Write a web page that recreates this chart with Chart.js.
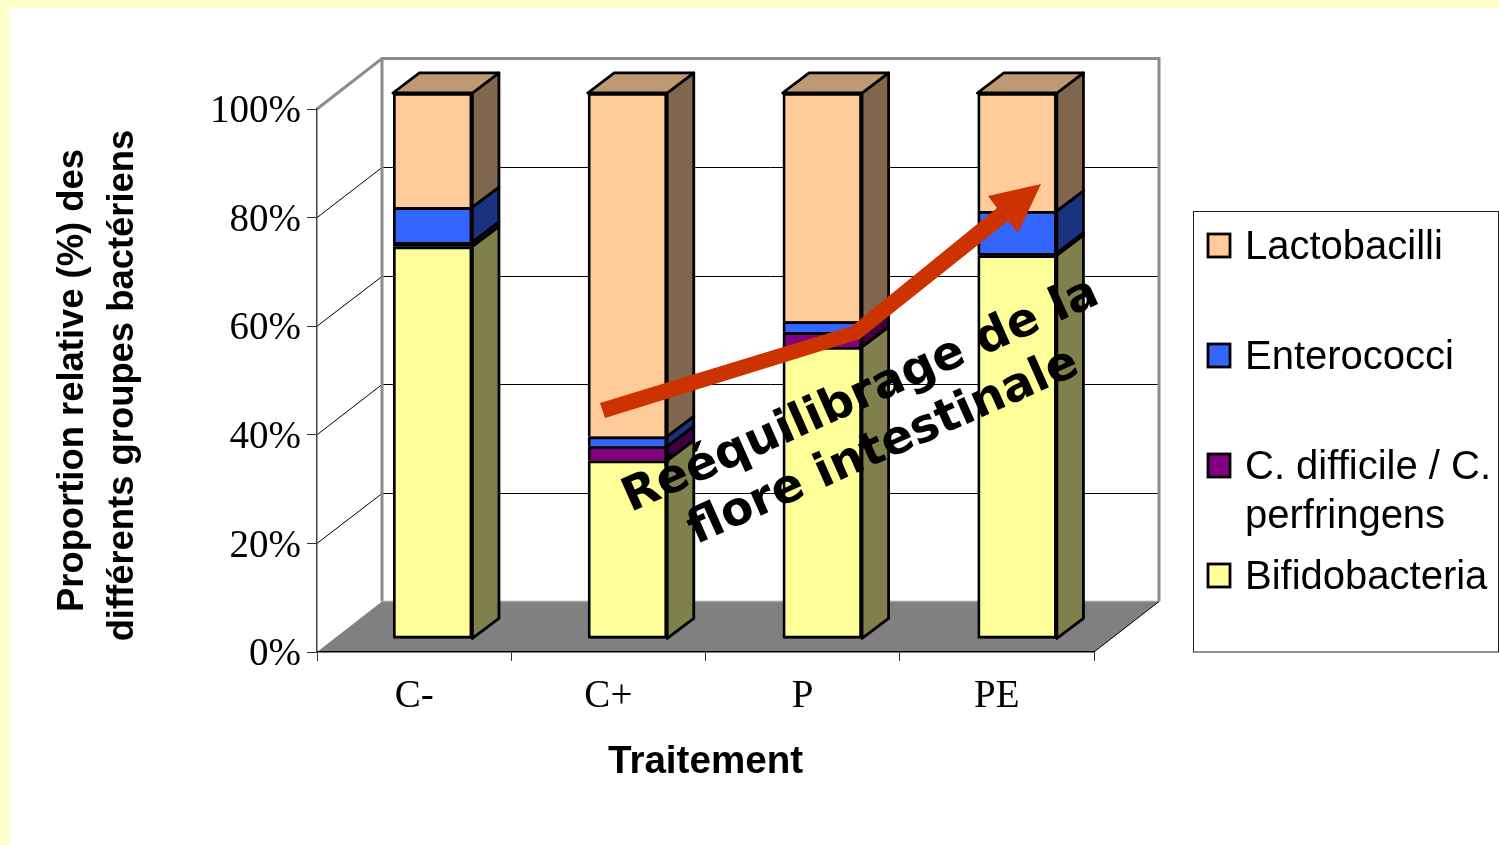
<!DOCTYPE html>
<html>
<head>
<meta charset="utf-8">
<style>
html, body { margin: 0; padding: 0; background: #ffffcc; overflow: hidden; }
#sheet { position: absolute; left: 9px; top: 8px; right: 0; bottom: 0; background: #fff; }
canvas { position: absolute; left: 0; top: 0; }
</style>
</head>
<body>
<div id="sheet"></div>
<canvas id="chart" width="1499" height="845"></canvas>
<script src="https://cdn.jsdelivr.net/npm/chart.js@4"></script>
<script>
var categories = ['C-', 'C+', 'P', 'PE'];
var bifidobacteria = [71.9, 32.7, 53.5, 70.3];
var difficile = [0.8, 2.6, 2.7, 0.4];
var enterococci = [6.4, 1.8, 2.0, 7.7];
var lactobacilli = [20.9, 62.9, 41.8, 21.6];

// trailing space on the second line nudges it down like the original
var yTitle = ['Proportion relative (%) des', 'différents groupes bactériens '];
var xTitle = 'Traitement';
var noteLines = ['Rééquilibrage de la', 'flore intestinale'];
var legendLabels = {
    'C. difficile / C. perfringens': ['C. difficile / C.', 'perfringens']
};

// depth of the fake 3D box and of the bars inside it
var wallDx = 65, wallDy = -50.5;
var barDx = 26.5, barDy = -20;

function sideColor(hex, k) {
    var n = parseInt(hex.slice(1), 16);
    var r = (n >> 16) & 255, g = (n >> 8) & 255, b = n & 255;
    return 'rgb(' + Math.round(r * k) + ',' + Math.round(g * k) + ',' + Math.round(b * k) + ')';
}

function poly(ctx, pts) {
    ctx.beginPath();
    ctx.moveTo(pts[0][0], pts[0][1]);
    for (var i = 1; i < pts.length; i++) ctx.lineTo(pts[i][0], pts[i][1]);
    ctx.closePath();
}

// very thin segments are all border in the original
function faceColor(c) {
    return c.parsed.y < 1 ? '#000' : c.dataset.color;
}

var box3d = {
    id: 'box3d',
    beforeDraw: function (chart) {
        var ctx = chart.ctx, a = chart.chartArea, y = chart.scales.y;
        var bx = a.left + wallDx, by = a.bottom + wallDy, tx = a.right + wallDx, ty = a.top + wallDy;
        ctx.save();
        // floor
        ctx.fillStyle = '#808080';
        poly(ctx, [[a.left, a.bottom], [bx, by], [tx, by], [a.right, a.bottom]]);
        ctx.fill();
        // grid lines on left and back wall
        ctx.strokeStyle = '#000';
        ctx.lineWidth = 1;
        y.ticks.forEach(function (t) {
            if (t.value === 0 || t.value === 100) return;
            var p = y.getPixelForValue(t.value);
            var q = Math.round(p + wallDy) + 0.5;
            ctx.beginPath();
            ctx.moveTo(a.left, p);
            ctx.lineTo(bx, q);
            ctx.lineTo(tx, q);
            ctx.stroke();
        });
        // wall outline
        ctx.strokeStyle = '#8c8c8c';
        ctx.lineWidth = 3;
        ctx.beginPath();
        ctx.moveTo(a.left, a.top);
        ctx.lineTo(bx, ty);
        ctx.lineTo(tx, ty);
        ctx.lineTo(tx, by);
        ctx.moveTo(bx, ty);
        ctx.lineTo(bx, by);
        ctx.stroke();
        ctx.strokeStyle = '#a0a0a0';
        ctx.lineWidth = 1.5;
        ctx.beginPath();
        ctx.moveTo(bx, by);
        ctx.lineTo(tx, by);
        ctx.stroke();
        ctx.strokeStyle = '#000';
        ctx.lineWidth = 1;
        ctx.beginPath();
        ctx.moveTo(a.right, a.bottom);
        ctx.lineTo(tx, by);
        ctx.stroke();
        ctx.restore();
    },
    beforeDatasetsDraw: function (chart) {
        var ctx = chart.ctx, a = chart.chartArea;
        ctx.save();
        // bars stand a little inside the box
        ctx.translate(a.left + 18.2, a.bottom - 13);
        ctx.scale(1.003, 546 / 543);
        ctx.translate(-a.left, -a.bottom);
        ctx.lineWidth = 2.8;
        ctx.lineJoin = 'round';
        ctx.strokeStyle = '#000';
        chart.data.datasets.forEach(function (ds, di) {
            chart.getDatasetMeta(di).data.forEach(function (bar) {
                var l = bar.x - bar.width / 2;
                var r = bar.x + bar.width / 2;
                // black behind the front face so no pale seams show between segments
                ctx.fillStyle = '#000';
                ctx.fillRect(l + 1, bar.y, bar.width - 2, bar.base - bar.y);
                ctx.fillStyle = sideColor(ds.color, 0.5);
                poly(ctx, [[r, bar.y], [r + barDx, bar.y + barDy], [r + barDx, bar.base + barDy], [r, bar.base]]);
                ctx.fill();
                ctx.stroke();
                if (di === chart.data.datasets.length - 1) {
                    ctx.fillStyle = sideColor(ds.color, 0.75);
                    poly(ctx, [[l, bar.y], [l + barDx, bar.y + barDy], [r + barDx, bar.y + barDy], [r, bar.y]]);
                    ctx.fill();
                    ctx.stroke();
                }
            });
        });
    },
    afterDatasetsDraw: function (chart) {
        chart.ctx.restore();
    }
};

var overlay = {
    id: 'overlay',
    afterDraw: function (chart) {
        var ctx = chart.ctx;
        ctx.save();
        // legend box
        ctx.fillStyle = '#fff';
        ctx.strokeStyle = '#222';
        ctx.lineWidth = 1;
        ctx.fillRect(1193.5, 211.5, 305, 440.5);
        ctx.strokeRect(1193.5, 211.5, 305, 440.5);
        var rows = [245.5, 355.5, 465.5, 575.5];
        ctx.font = '40px "Liberation Sans"';
        ctx.textBaseline = 'alphabetic';
        var sets = chart.data.datasets.slice().reverse();
        sets.forEach(function (ds, i) {
            ctx.fillStyle = ds.color;
            ctx.strokeStyle = '#000';
            ctx.lineWidth = 2.8;
            ctx.fillRect(1208, rows[i] - 11.5, 22, 23);
            ctx.strokeRect(1208, rows[i] - 11.5, 22, 23);
            ctx.fillStyle = '#000';
            var lines = legendLabels[ds.label] || [ds.label];
            lines.forEach(function (t, k) {
                ctx.fillText(t, 1245, rows[i] + 13.5 + k * 49);
            });
        });
        // arrow
        ctx.fillStyle = '#cc3300';
        poly(ctx, [[600, 403], [852, 326], [997, 208], [988, 196], [1041, 184], [1018, 233], [1008, 221], [860, 339], [605, 418]]);
        ctx.fill();
        // note across the bars
        ctx.translate(866, 407.5);
        ctx.rotate(-24 * Math.PI / 180);
        ctx.fillStyle = '#000';
        ctx.font = 'bold 47px "DejaVu Sans"';
        ctx.textAlign = 'center';
        ctx.fillText(noteLines[0], 0, 0);
        ctx.fillText(noteLines[1], 0, 56);
        ctx.restore();
    }
};

function makeSet(label, values, color, skipped) {
    return {
        label: label,
        data: values,
        color: color,
        backgroundColor: faceColor,
        borderColor: '#000',
        borderWidth: 2.8,
        borderSkipped: skipped,
        categoryPercentage: 1,
        barPercentage: 0.408,
        clip: false
    };
}

new Chart(document.getElementById('chart').getContext('2d'), {
    type: 'bar',
    data: {
        labels: categories,
        datasets: [
            makeSet('Bifidobacteria', bifidobacteria, '#ffff99', false),
            makeSet('C. difficile / C. perfringens', difficile, '#800080', 'start'),
            makeSet('Enterococci', enterococci, '#3366ff', 'start'),
            makeSet('Lactobacilli', lactobacilli, '#ffcc99', 'start')
        ]
    },
    options: {
        responsive: false,
        animation: false,
        events: [],
        layout: { padding: { top: 109, right: 405, left: 0, bottom: 0 } },
        plugins: {
            legend: { display: false },
            tooltip: { enabled: false }
        },
        scales: {
            x: {
                stacked: true,
                afterFit: function (s) { s.height = 193; },
                grid: { drawOnChartArea: false, tickLength: 9, tickColor: '#333', tickWidth: 1 },
                border: { color: '#000', width: 1.5 },
                ticks: { color: '#000', font: { family: '"Liberation Serif"', size: 39 }, padding: 12, maxRotation: 0 },
                title: {
                    display: true,
                    text: xTitle,
                    color: '#000',
                    font: { family: '"Liberation Sans"', size: 38.6, weight: 'bold', lineHeight: '46px' },
                    padding: { top: 0, bottom: 60 }
                }
            },
            y: {
                stacked: true,
                min: 0,
                max: 100,
                afterFit: function (s) { s.width = 317; },
                grid: { drawOnChartArea: false, tickLength: 10, tickColor: '#333', tickWidth: 1 },
                border: { color: '#444', width: 1.5 },
                ticks: {
                    stepSize: 20,
                    color: '#000',
                    font: { family: '"Liberation Serif"', size: 39 },
                    padding: 6,
                    labelOffset: 3,
                    callback: function (v) { return v + '%'; }
                },
                title: {
                    display: true,
                    text: yTitle,
                    color: '#000',
                    font: { family: '"Liberation Sans"', size: 36.4, weight: 'bold', lineHeight: '50px' },
                    padding: { top: 48, bottom: 0 }
                }
            }
        }
    },
    plugins: [box3d, overlay]
});
</script>
</body>
</html>
